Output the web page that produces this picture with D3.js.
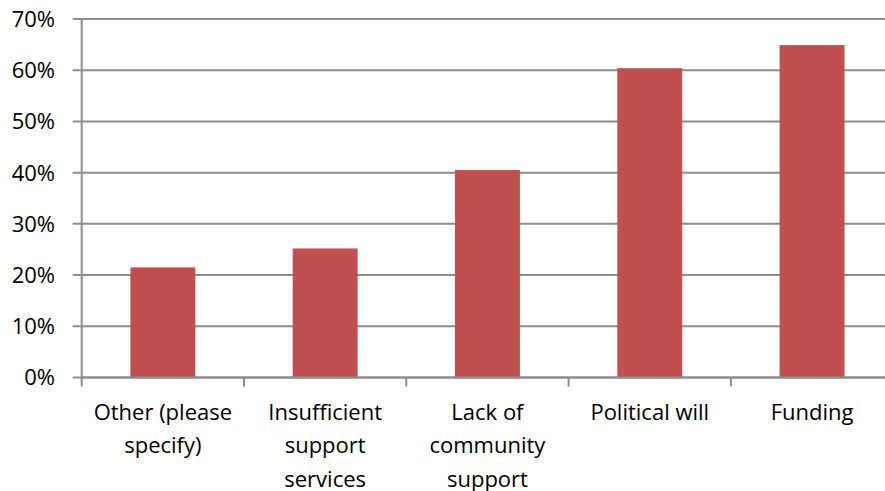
<!DOCTYPE html>
<html>
<head>
<meta charset="utf-8">
<script src="https://cdn.jsdelivr.net/npm/d3@7"></script>
<style>
  html, body { margin: 0; padding: 0; background: #fff; }
  svg { display: block; }
  text { font-family: "Open Sans", sans-serif; fill: #000; }
</style>
</head>
<body>
<svg id="chart" width="885" height="491"></svg>
<script>
const categories = [
  ["Other (please", "specify)"],
  ["Insufficient", "support", "services"],
  ["Lack of", "community", "support"],
  ["Political will"],
  ["Funding"]
];
const values = [0.215, 0.252, 0.405, 0.604, 0.649];
const yTicks = [0, 0.1, 0.2, 0.3, 0.4, 0.5, 0.6, 0.7];

const svg = d3.select("#chart");
const plotLeft = 81.7, plotRight = 893.2, plotTop = 19, plotBottom = 377.5;
const gridColor = "#8c8c8c";
const fontSize = 22;

const x = d3.scaleBand()
  .domain(d3.range(categories.length))
  .range([plotLeft, plotRight])
  .paddingInner(0.6)
  .paddingOuter(0.3);

const y = d3.scaleLinear().domain([0, 0.7]).range([plotBottom, plotTop]);

// gridlines
svg.append("g")
  .selectAll("line")
  .data(yTicks)
  .join("line")
  .attr("x1", plotLeft - 9)
  .attr("x2", plotRight)
  .attr("y1", d => y(d))
  .attr("y2", d => y(d))
  .attr("stroke", gridColor)
  .attr("stroke-width", 2);

// y axis labels
svg.append("g")
  .selectAll("text")
  .data(yTicks)
  .join("text")
  .attr("x", 55)
  .attr("y", d => y(d))
  .attr("dy", "0.36em")
  .attr("text-anchor", "end")
  .style("font-size", fontSize + "px")
  .text(d => d3.format(".0%")(d));

// bars
svg.append("g")
  .selectAll("rect")
  .data(values)
  .join("rect")
  .attr("x", (d, i) => x(i))
  .attr("width", x.bandwidth())
  .attr("y", d => y(d))
  .attr("height", d => y(0) - y(d))
  .attr("fill", "#C0504D");

// y axis line
svg.append("line")
  .attr("x1", plotLeft).attr("x2", plotLeft)
  .attr("y1", plotTop).attr("y2", plotBottom + 9)
  .attr("stroke", gridColor).attr("stroke-width", 2);

// x axis line
svg.append("line")
  .attr("x1", plotLeft).attr("x2", plotRight)
  .attr("y1", plotBottom).attr("y2", plotBottom)
  .attr("stroke", gridColor).attr("stroke-width", 2);

// x category ticks at boundaries
const step = x.step();
const boundaries = d3.range(1, categories.length + 1).map(i => plotLeft + i * step);
svg.append("g")
  .selectAll("line")
  .data(boundaries)
  .join("line")
  .attr("x1", d => d).attr("x2", d => d)
  .attr("y1", plotBottom).attr("y2", plotBottom + 9)
  .attr("stroke", gridColor).attr("stroke-width", 2);

// category labels
const lab = svg.append("g")
  .selectAll("text")
  .data(categories)
  .join("text")
  .attr("x", (d, i) => x(i) + x.bandwidth() / 2)
  .attr("y", 420)
  .attr("text-anchor", "middle")
  .style("font-size", fontSize + "px");
lab.selectAll("tspan")
  .data(d => d)
  .join("tspan")
  .attr("x", function() { return d3.select(this.parentNode).attr("x"); })
  .attr("dy", (d, i) => i === 0 ? 0 : 33.3)
  .text(d => d);
</script>
</body>
</html>
